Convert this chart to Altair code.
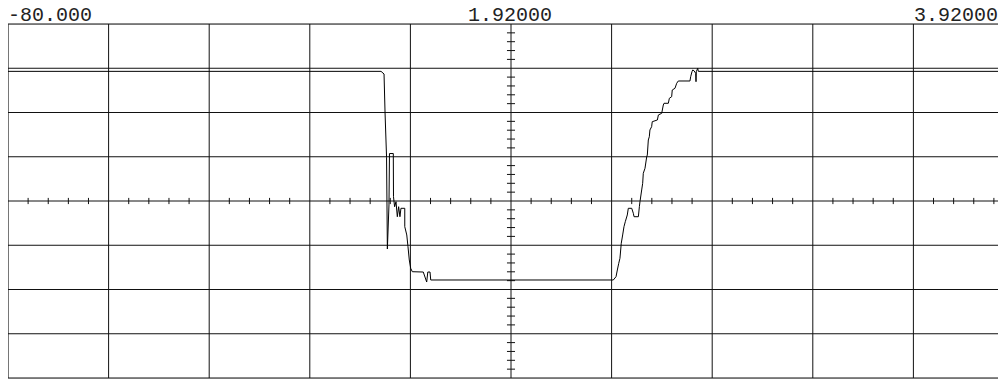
import altair as alt
import pandas as pd

# Trace values, in screen divisions (x: 0..10 from left, y: -4..4 around centre)
trace_x = [0, 3.708, 3.738, 3.748, 3.763, 3.771, 3.787, 3.792, 3.830, 3.832,
           3.843, 3.857, 3.870, 3.883, 3.896, 3.906, 3.944, 3.944, 3.964, 3.976,
           3.989, 4.003, 4.019, 4.128, 4.162, 4.173, 4.195, 4.202, 6.017, 6.044,
           6.057, 6.071, 6.083, 6.096, 6.110, 6.123, 6.136, 6.156, 6.166, 6.200,
           6.216, 6.223, 6.266, 6.276, 6.282, 6.299, 6.309, 6.315, 6.332, 6.349,
           6.355, 6.365, 6.375, 6.381, 6.398, 6.404, 6.455, 6.465, 6.498, 6.514,
           6.521, 6.564, 6.574, 6.597, 6.603, 6.630, 6.647, 6.663, 6.779, 6.786,
           6.799, 6.806, 6.819, 6.836, 6.839, 6.842, 6.856, 6.862, 10.0]
trace_y = [2.93, 2.93, 2.87, 1.99, 0.99, -1.085, -0.09, 1.073, 1.073, 0.097,
           -0.129, -0.016, -0.355, -0.129, -0.355, -0.165, -0.165, -0.581, -0.768, -1.033,
           -1.333, -1.521, -1.598, -1.605, -1.831, -1.605, -1.605, -1.785, -1.785, -1.711,
           -1.559, -1.408, -1.295, -0.956, -0.768, -0.581, -0.468, -0.316, -0.165, -0.165,
           -0.278, -0.355, -0.355, -0.129, -0.016, 0.249, 0.4, 0.626, 0.739, 1.001,
           1.040, 1.379, 1.453, 1.605, 1.679, 1.792, 1.831, 1.944, 1.982, 2.169,
           2.208, 2.208, 2.321, 2.357, 2.508, 2.547, 2.66, 2.712, 2.712, 2.809,
           2.922, 2.960, 2.945, 2.886, 2.696, 2.922, 2.999, 2.93, 2.93]

grid_x = [0, 1, 2, 3, 4, 5, 6, 7, 8, 9]
grid_y = [-4, -3, -2, -1, 0, 1, 2, 3, 4]

label_left = "-80.000"
label_center = "1.92000"
label_right = "3.92000"

# svg kept 990px wide so the page does not shrink it
W, H = 990, 354
X_MAX = W / 100.6
Y_MIN = -4

xs = alt.Scale(domain=[0, X_MAX], nice=False, zero=False)
ys = alt.Scale(domain=[Y_MIN, 4], nice=False, zero=False)

trace = pd.DataFrame({"i": range(len(trace_x)), "x": trace_x, "y": trace_y})
vgrid = pd.DataFrame({"x": grid_x})
hgrid = pd.DataFrame({"y": grid_y})

# minor ticks on the centre axes (every 1/5 division)
xt = [k / 5 for k in range(0, 50) if k % 5 != 0]
yt = [k / 5 for k in range(-20, 21) if k % 5 != 0]
xticks = pd.DataFrame({"x": xt, "y": [-0.07] * len(xt), "y2": [0.07] * len(xt)})
yticks = pd.DataFrame({"y": yt, "x": [4.96] * len(yt), "x2": [5.04] * len(yt)})

col = "#111111"

vlines = alt.Chart(vgrid).mark_rule(color=col, strokeWidth=1).encode(
    x=alt.X("x:Q", scale=xs, axis=None))
hlines = alt.Chart(hgrid).mark_rule(color=col, strokeWidth=1).encode(
    y=alt.Y("y:Q", scale=ys, axis=None))
xtk = alt.Chart(xticks).mark_rule(color=col, strokeWidth=1, clip=True).encode(
    x=alt.X("x:Q", scale=xs, axis=None),
    y=alt.Y("y:Q", scale=ys, axis=None), y2="y2:Q")
ytk = alt.Chart(yticks).mark_rule(color=col, strokeWidth=1).encode(
    y=alt.Y("y:Q", scale=ys, axis=None),
    x=alt.X("x:Q", scale=xs, axis=None), x2="x2:Q")

line = alt.Chart(trace).mark_line(color="black", strokeWidth=1, clip=True).encode(
    x=alt.X("x:Q", scale=xs, axis=None),
    y=alt.Y("y:Q", scale=ys, axis=None),
    order="i:Q")

font = dict(font="Liberation Mono", fontSize=20, color="#222222", baseline="alphabetic")
t1 = alt.Chart(pd.DataFrame({"t": [label_left]})).mark_text(align="left", **font).encode(
    text="t:N", x=alt.value(0), y=alt.value(-3))
t2 = alt.Chart(pd.DataFrame({"t": [label_center]})).mark_text(align="center", **font).encode(
    text="t:N", x=alt.value(502), y=alt.value(-3))
t3 = alt.Chart(pd.DataFrame({"t": [label_right]})).mark_text(align="right", **font).encode(
    text="t:N", x=alt.value(990), y=alt.value(-3))

chart = alt.layer(vlines, hlines, xtk, ytk, line, t1, t2, t3).properties(
    width=W, height=H,
    autosize=alt.AutoSizeParams(type="none"),
    padding={"left": 0, "top": 16, "right": 0, "bottom": 1},
).configure_view(stroke=None).configure(background="white")

chart.save("out.html", embed_options={"renderer": "svg", "actions": False})
